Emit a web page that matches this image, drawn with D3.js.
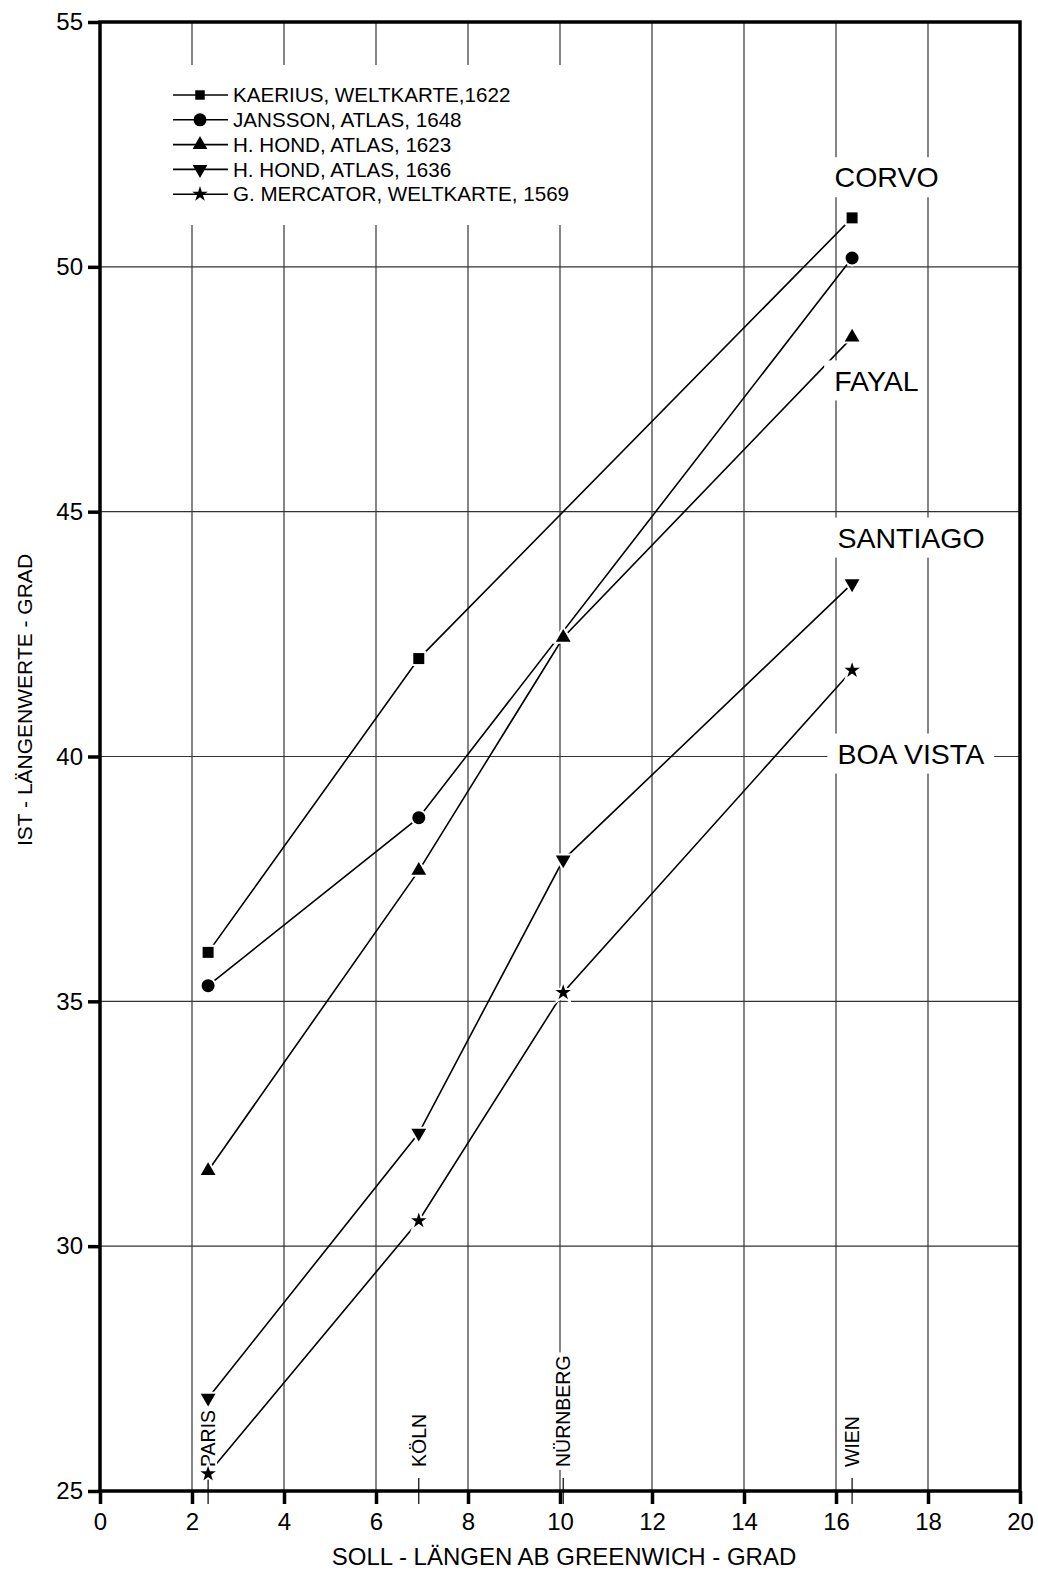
<!DOCTYPE html>
<html><head><meta charset="utf-8">
<script src="https://cdn.jsdelivr.net/npm/d3@7"></script>
<style>
html,body{margin:0;padding:0;background:#fff;}
svg{display:block;font-family:"Liberation Sans",Arial,sans-serif;}
</style></head>
<body>
<svg id="chart" width="1038" height="1571"></svg>
<script>
// ---- data ----
const cities = ["PARIS", "KÖLN", "NÜRNBERG", "WIEN"];
const cityX = [2.35, 6.93, 10.07, 16.35];
const seriesNames = ["KAERIUS, WELTKARTE,1622", "JANSSON, ATLAS, 1648", "H. HOND, ATLAS, 1623", "H. HOND, ATLAS, 1636", "G. MERCATOR, WELTKARTE, 1569"];
const kaerius  = [36.0, 42.0, null, 51.0];
const jansson  = [35.32, 38.75, null, 50.18];
const hond1623 = [31.54, 37.67, 42.43, 48.56];
const hond1636 = [26.9, 32.31, 37.89, 43.53];
const mercator = [25.35, 30.52, 35.18, 41.76];
const islands = ["CORVO", "FAYAL", "SANTIAGO", "BOA VISTA"];
const islandX = [15.97, 15.96, 16.03, 16.03];
const islandY = [51.83, 47.68, 44.47, 40.06];
const xTicks = [0, 2, 4, 6, 8, 10, 12, 14, 16, 18, 20];
const yTicks = [25, 30, 35, 40, 45, 50, 55];
const xTitle = "SOLL - LÄNGEN AB GREENWICH - GRAD";
const yTitle = "IST - LÄNGENWERTE - GRAD";

const allSeries = [kaerius, jansson, hond1623, hond1636, mercator];
const symbols = [d3.symbolSquare, d3.symbolCircle, d3.symbolTriangle, d3.symbolTriangle, d3.symbolStar];
const symSizes = [121, 133, 95, 95, 75];
const symRot = [0, 0, 0, 180, 0];

const svg = d3.select("#chart");
const FONT = '"Liberation Sans",Arial,sans-serif';
const x = d3.scaleLinear().domain([0, 20]).range([100, 1020]);
const y = d3.scaleLinear().domain([25, 55]).range([1491, 22]);

// gridlines
const grid = svg.append("g");
grid.selectAll("line.vx").data(xTicks.filter(t => t > 0 && t < 20)).join("line")
  .attr("x1", d => x(d)).attr("x2", d => x(d)).attr("y1", y(55)).attr("y2", y(25))
  .attr("stroke", "#222").attr("stroke-width", 1.1);
grid.selectAll("line.hy").data(yTicks.filter(t => t > 25 && t < 55)).join("line")
  .attr("x1", x(0)).attr("x2", x(20)).attr("y1", d => y(d)).attr("y2", d => y(d))
  .attr("stroke", "#333").attr("stroke-width", 1.1);

// series lines
const line = d3.line().x(d => x(d[0])).y(d => y(d[1]));
allSeries.forEach(s => {
  const pts = cityX.map((cx, i) => [cx, s[i]]).filter(p => p[1] != null);
  svg.append("path").attr("d", line(pts)).attr("fill", "none")
    .attr("stroke", "#000").attr("stroke-width", 1.6);
});

// legend box
svg.append("rect").attr("x", 160).attr("y", 65).attr("width", 430).attr("height", 160).attr("fill", "#fff");
const lg = svg.append("g");
seriesNames.forEach((n, i) => {
  const ly = 95 + i * 24.8;
  lg.append("line").attr("x1", 173).attr("x2", 228).attr("y1", ly).attr("y2", ly)
    .attr("stroke", "#000").attr("stroke-width", 1.6);
  lg.append("path").attr("d", d3.symbol().type(symbols[i]).size(i === 0 ? 90 : symSizes[i])())
    .attr("transform", `translate(200,${ly}) rotate(${symRot[i]})`).attr("fill", "#000");
  lg.append("text").attr("x", 233).attr("y", ly).attr("dy", "0.35em")
    .attr("font-size", 20.6).attr("font-family", FONT).attr("fill", "#000").text(n);
});

// island labels with white background
islands.forEach((n, i) => {
  const t = svg.append("text").attr("x", x(islandX[i])).attr("y", y(islandY[i])).attr("dy", "0.36em")
    .attr("font-size", 28.5).attr("font-family", FONT).attr("fill", "#000").text(n);
  const bb = t.node().getBBox();
  const padR = n === "FAYAL" ? 3 : 10;
  svg.insert("rect", () => t.node()).attr("x", bb.x - 10).attr("y", y(islandY[i]) - 20)
    .attr("width", bb.width + 10 + padR).attr("height", 40).attr("fill", "#fff");
});

// city labels along bottom
cities.forEach((c, i) => {
  const cx = x(cityX[i]);
  svg.append("line").attr("x1", cx).attr("x2", cx).attr("y1", 1478).attr("y2", 1504)
    .attr("stroke", "#000").attr("stroke-width", 1.2);
  const t = svg.append("text").attr("transform", `translate(${cx},1467) rotate(-90)`)
    .attr("dy", "0.36em").attr("font-size", 19.5).attr("font-family", FONT).attr("fill", "#000").text(c);
  const w = t.node().getComputedTextLength();
  svg.insert("rect", () => t.node()).attr("x", cx - 9).attr("y", 1467 - w - 3)
    .attr("width", 18).attr("height", w + 6).attr("fill", "#fff");
});

// markers
allSeries.forEach((s, k) => {
  const pts = cityX.map((cx, i) => [cx, s[i]]).filter(p => p[1] != null);
  svg.append("g").selectAll("path").data(pts).join("path")
    .attr("d", d3.symbol().type(symbols[k]).size(symSizes[k]))
    .attr("transform", d => `translate(${x(d[0])},${y(d[1])}) rotate(${symRot[k]})`)
    .attr("fill", "#000").attr("stroke", "#fff").attr("stroke-width", 4)
    .style("paint-order", "stroke");
});

// axes
const ax = svg.append("g").attr("transform", `translate(0,${y(25)})`)
  .call(d3.axisBottom(x).tickValues(xTicks).tickSize(13).tickPadding(9).tickFormat(d3.format("d")));
ax.select(".domain").remove();
ax.selectAll(".tick line").attr("stroke", "#000").attr("stroke-width", 3.5);
ax.selectAll(".tick text").attr("font-size", 24).attr("font-family", FONT).attr("fill", "#000");

const ay = svg.append("g").attr("transform", `translate(${x(0)},0)`)
  .call(d3.axisLeft(y).tickValues(yTicks).tickSize(12).tickPadding(5).tickFormat(d3.format("d")));
ay.select(".domain").remove();
ay.selectAll(".tick line").attr("stroke", "#000").attr("stroke-width", 3.5);
ay.selectAll(".tick text").attr("font-size", 24).attr("font-family", FONT).attr("fill", "#000");

// frame
svg.append("rect").attr("x", x(0)).attr("y", y(55)).attr("width", x(20) - x(0)).attr("height", y(25) - y(55))
  .attr("fill", "none").attr("stroke", "#000").attr("stroke-width", 3.5);

// titles
svg.append("text").attr("x", 564).attr("y", 1565).attr("text-anchor", "middle")
  .attr("font-size", 24).attr("font-family", FONT).attr("fill", "#000").text(xTitle);
svg.append("text").attr("transform", "translate(24,700) rotate(-90)").attr("text-anchor", "middle")
  .attr("dy", "0.36em").attr("font-size", 21).attr("font-family", FONT).attr("fill", "#000").text(yTitle);
</script>
</body></html>
